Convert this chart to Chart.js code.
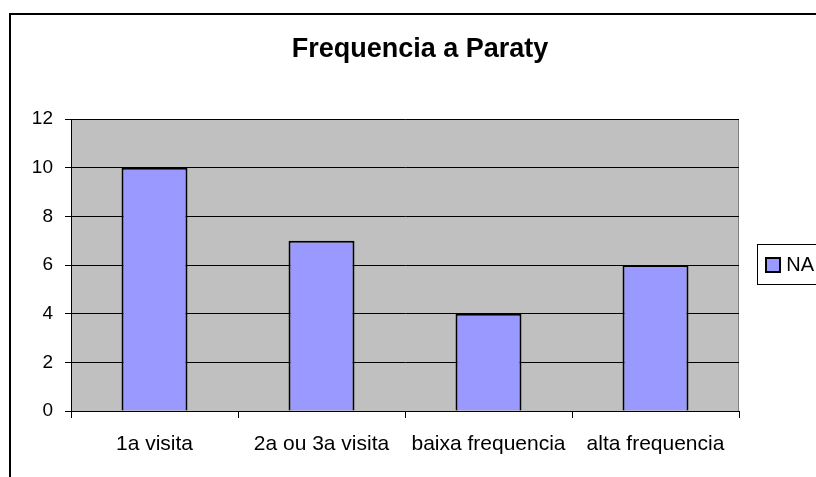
<!DOCTYPE html>
<html>
<head>
<meta charset="utf-8">
<script src="https://cdn.jsdelivr.net/npm/chart.js@4/dist/chart.umd.min.js"></script>
<style>
    html, body { margin: 0; padding: 0; background: #fff; overflow: hidden; }
    #wrap { width: 816px; height: 477px; overflow: hidden; }
</style>
</head>
<body>
<div id="wrap"><canvas id="freqChart" width="819" height="477"></canvas></div>
<script>
// ===================== DATA =====================
const categories = ['1a visita', '2a ou 3a visita', 'baixa frequencia', 'alta frequencia'];
const naValues = [10, 7, 4, 6];
const seriesLabel = 'NA';
const chartTitle = 'Frequencia a Paraty';
const yTicks = [0, 2, 4, 6, 8, 10, 12];

Chart.defaults.font.family = "'Liberation Sans', Arial, sans-serif";
Chart.defaults.color = '#000';

// Excel style frame, plot area fill and legend box
const excelFrame = {
    id: 'excelFrame',
    beforeDraw(chart) {
        const ctx = chart.ctx;
        const a = chart.chartArea;
        ctx.save();
        ctx.fillStyle = '#fff';
        ctx.fillRect(0, 0, chart.width, chart.height);
        ctx.lineWidth = 2;
        ctx.strokeStyle = '#000';
        ctx.strokeRect(10, 14, 900, 600);
        ctx.fillStyle = '#c0c0c0';
        ctx.fillRect(a.left, a.top, a.right - a.left, a.bottom - a.top);
        ctx.lineWidth = 1;
        ctx.strokeStyle = '#808080';
        ctx.strokeRect(a.left + 0.5, a.top + 0.5, a.right - a.left - 1, a.bottom - a.top);
        ctx.restore();
    },
    afterDraw(chart) {
        const hb = chart.legend && chart.legend.legendHitBoxes && chart.legend.legendHitBoxes[0];
        if (!hb) return;
        const ctx = chart.ctx;
        ctx.save();
        ctx.lineWidth = 1;
        ctx.strokeStyle = '#000';
        ctx.strokeRect(Math.round(hb.left - 9) + 0.5, Math.round(hb.top - 11) + 0.5, 200, 40);
        ctx.restore();
    }
};

const ctx = document.getElementById('freqChart').getContext('2d');
const freqChart = new Chart(ctx, {
    type: 'bar',
    data: {
        labels: categories,
        datasets: [{
            label: seriesLabel,
            data: naValues,
            backgroundColor: '#9999ff',
            borderColor: '#000',
            borderWidth: 2,
            barPercentage: 0.395,
            categoryPercentage: 1
        }]
    },
    options: {
        responsive: false,
        animation: false,
        layout: {
            padding: { left: 26, right: 5, top: 0, bottom: 0 }
        },
        plugins: {
            title: {
                display: true,
                text: chartTitle,
                color: '#000',
                font: { size: 27, weight: 'bold', lineHeight: 1.2 },
                padding: { top: 33, bottom: 53.6 }
            },
            legend: {
                position: 'right',
                fullSize: false,
                maxWidth: 75,
                labels: {
                    boxWidth: 14,
                    boxHeight: 14,
                    padding: 27,
                    textAlign: 'right',
                    color: '#000',
                    font: { size: 20 }
                }
            },
            tooltip: { enabled: false }
        },
        scales: {
            x: {
                afterFit(scale) { scale.height = 66; },
                grid: {
                    offset: true,
                    drawOnChartArea: false,
                    drawTicks: true,
                    tickLength: 7,
                    color: '#000'
                },
                border: { color: '#000', width: 1 },
                ticks: {
                    padding: 14,
                    maxRotation: 0,
                    color: '#000',
                    font: { size: 21 }
                }
            },
            y: {
                min: yTicks[0],
                max: yTicks[yTicks.length - 1],
                afterFit(scale) { scale.width = 45; },
                afterBuildTicks(scale) { scale.ticks = yTicks.map(v => ({ value: v })); },
                grid: {
                    color: '#000',
                    drawTicks: true,
                    tickLength: 6
                },
                border: { color: '#000', width: 1 },
                ticks: {
                    padding: 12,
                    color: '#000',
                    font: { size: 19 }
                }
            }
        }
    },
    plugins: [excelFrame]
});
</script>
</body>
</html>
